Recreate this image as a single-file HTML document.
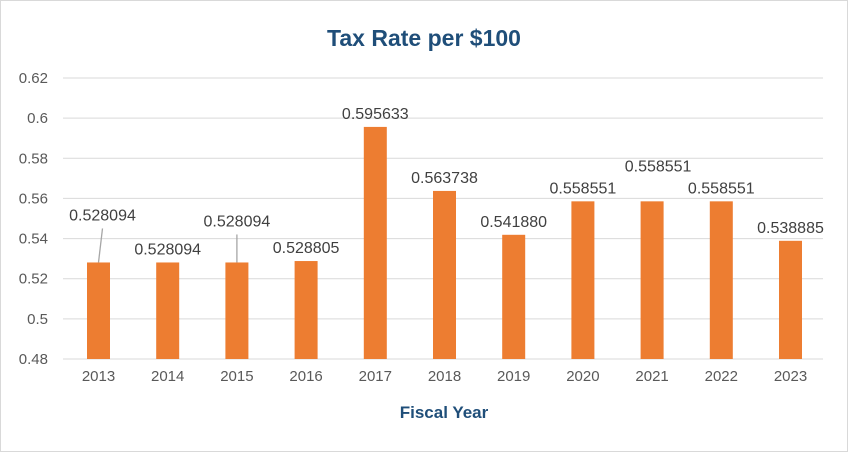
<!DOCTYPE html>
<html><head><meta charset="utf-8"><style>
body{margin:0;background:#fff}
svg{display:block;font-family:"Liberation Sans",sans-serif}
</style></head><body>
<svg width="848" height="452">
<rect x="0.5" y="0.5" width="847" height="451" fill="#fff" stroke="#d9d9d9"/>
<text x="424" y="46" text-anchor="middle" font-size="23" font-weight="bold" fill="#1f4e79">Tax Rate per $100</text>
<g id="grid"></g><g id="bars"></g><g id="labels"></g>
<text x="444" y="418" text-anchor="middle" font-size="17" font-weight="bold" fill="#1f4e79">Fiscal Year</text>
</svg>
<script>
const categories=["2013","2014","2015","2016","2017","2018","2019","2020","2021","2022","2023"];
const values=[0.528094,0.528094,0.528094,0.528805,0.595633,0.563738,0.541880,0.558551,0.558551,0.558551,0.538885];
const valueLabels=["0.528094","0.528094","0.528094","0.528805","0.595633","0.563738","0.541880","0.558551","0.558551","0.558551","0.538885"];
const yTicks=[0.48,0.5,0.52,0.54,0.56,0.58,0.6,0.62];
const yTickLabels=["0.48","0.5","0.52","0.54","0.56","0.58","0.6","0.62"];
const NS="http://www.w3.org/2000/svg";
const y=v=>359-(v-0.48)/0.14*281;
const x=i=>98.5+i*69.2;
function mk(t,a,p){const e=document.createElementNS(NS,t);for(const k in a)e.setAttribute(k,a[k]);document.getElementById(p).appendChild(e);return e;}
yTicks.forEach((v,i)=>{
 const l=mk('line',{x1:63,x2:823,y1:y(v),y2:y(v),stroke:'#d9d9d9','stroke-width':1},'grid');
 
 
 const t=mk('text',{x:48,y:y(v)+5,'text-anchor':'end','font-size':15,fill:'#595959'},'grid');
 t.textContent=yTickLabels[i];
 
 
});
const offsets={0:[4,-36],2:[0,-30],8:[6,-24]};
categories.forEach((c,i)=>{
 const top=y(values[i]);
 const b=mk('rect',{x:x(i)-11.5,y:top,width:23,height:359-top,fill:'#ed7d31'},'bars');
 
 
 const t=mk('text',{x:x(i),y:381,'text-anchor':'middle','font-size':15,fill:'#595959'},'grid');
 t.textContent=c;
 
 
 let dx=0,dy=-8;
 if(offsets[i]){dx=offsets[i][0];dy=offsets[i][1];
  if(i!==8){const ln=mk('line',{x1:x(i),y1:top,x2:x(i)+dx,y2:top+dy+2,stroke:'#a6a6a6','stroke-width':1.3},'labels');
  
  }
  dy-=6;
 }
 const vl=mk('text',{x:x(i)+dx,y:top+dy,'text-anchor':'middle','font-size':16,fill:'#404040'},'labels');
 vl.textContent=valueLabels[i];
 
 
});
</script>
</body></html>
